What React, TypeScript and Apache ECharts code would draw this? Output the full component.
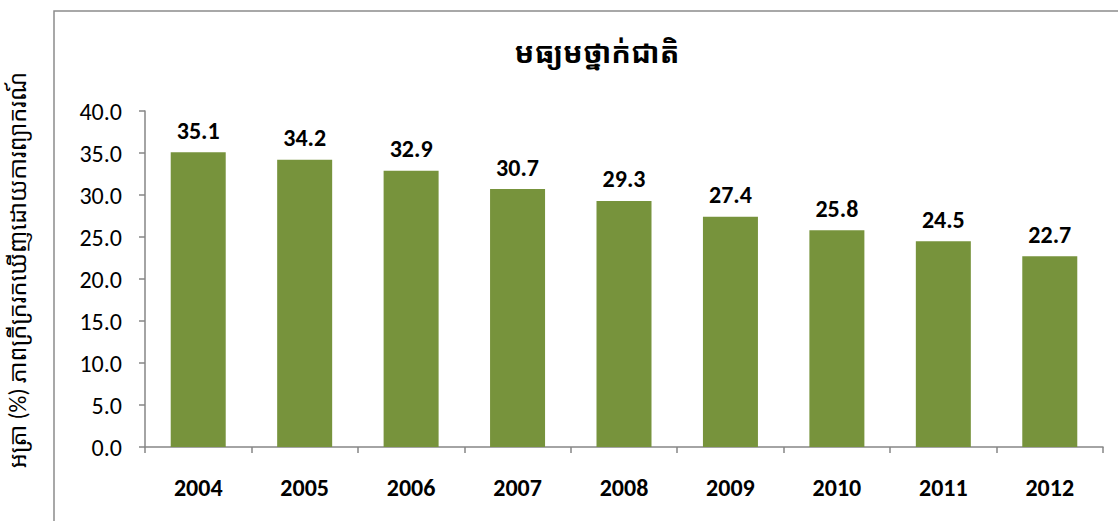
import React, { useEffect, useRef } from "react";
import * as echarts from "echarts";

const titleText = "មធ្យមថ្នាក់ជាតិ";
const yAxisName = "អត្រា (%) ភាពក្រីក្ររកឃើញដោយការព្យាករណ៍";
const categories = ["2004", "2005", "2006", "2007", "2008", "2009", "2010", "2011", "2012"];
const values = [35.1, 34.2, 32.9, 30.7, 29.3, 27.4, 25.8, 24.5, 22.7];

const FONT = "Carlito, Lato, 'Noto Sans', 'Noto Sans Khmer', 'Khmer OS', sans-serif";

export default function App() {
  const ref = useRef<HTMLDivElement>(null);
  useEffect(() => {
    document.body.style.margin = "0";
    if (!ref.current) return;
    const chart = echarts.init(ref.current, undefined, { renderer: "svg" });
    chart.setOption({
      animation: false,
      backgroundColor: "#ffffff",
      textStyle: { fontFamily: FONT },
      title: {
        text: titleText,
        left: 592,
        top: 33,
        textAlign: "center",
        textStyle: { fontSize: 29, fontWeight: "bold", color: "#000", fontFamily: FONT },
      },
      graphic: [
        {
          type: "rect",
          shape: { x: 54, y: 11, width: 1200, height: 700 },
          style: { fill: "none", stroke: "#8c8c8c", lineWidth: 1.5 },
          silent: true,
        },
        {
          type: "text",
          x: 18,
          y: 270,
          rotation: Math.PI / 2,
          style: {
            text: yAxisName,
            fontSize: 23.5,
            fill: "#000",
            fontFamily: FONT,
            align: "center",
            verticalAlign: "middle",
          },
          silent: true,
        },
      ],
      grid: { left: 145, right: 15, top: 111, bottom: 74, containLabel: false },
      xAxis: {
        type: "category",
        data: categories,
        axisLine: { lineStyle: { color: "#868686", width: 1.5 } },
        axisTick: { show: true, length: 6, lineStyle: { color: "#868686", width: 1.5 } },
        axisLabel: { margin: 28, fontSize: 24, fontWeight: "bold", color: "#000", fontFamily: FONT },
      },
      yAxis: {
        type: "value",
        min: 0,
        max: 40,
        interval: 5,
        axisLine: { show: true, lineStyle: { color: "#868686", width: 1.5 } },
        axisTick: { show: true, length: 6, lineStyle: { color: "#868686", width: 1.5 } },
        splitLine: { show: false },
        axisLabel: {
          margin: 23,
          fontSize: 24,
          color: "#000",
          fontFamily: FONT,
          formatter: (v: number) => v.toFixed(1),
        },
      },
      series: [
        {
          type: "bar",
          data: values,
          barWidth: 55,
          itemStyle: { color: "#77933C" },
          label: {
            show: true,
            position: "top",
            distance: 10,
            fontSize: 24,
            fontWeight: "bold",
            color: "#000",
            fontFamily: FONT,
            formatter: (p: any) => Number(p.value).toFixed(1),
          },
        },
      ],
    });
    return () => chart.dispose();
  }, []);
  return <div ref={ref} style={{ width: 1118, height: 521 }} />;
}
